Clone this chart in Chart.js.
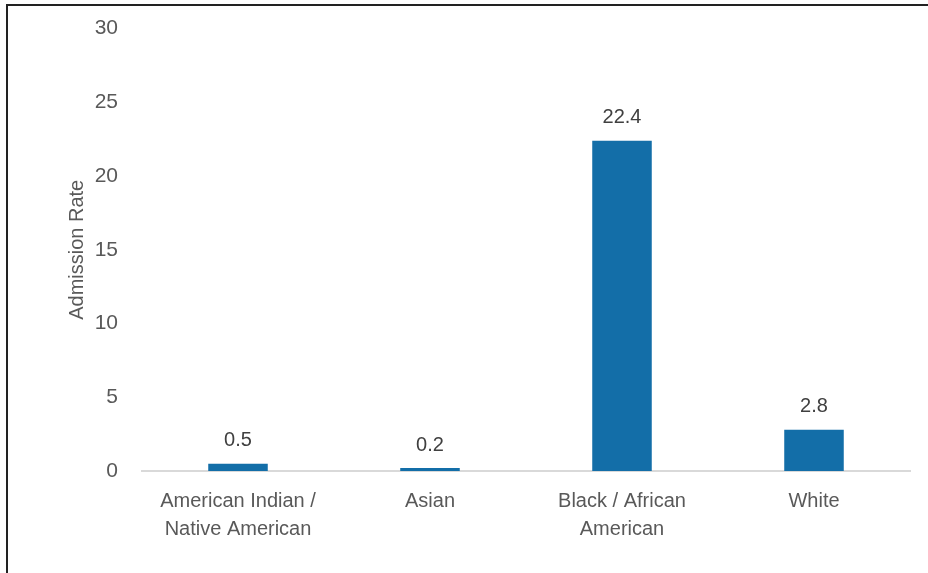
<!DOCTYPE html>
<html>
<head>
<meta charset="utf-8">
<script src="https://cdn.jsdelivr.net/npm/chart.js@4"></script>
<style>
  html, body { margin: 0; padding: 0; background: #fff; }
  #wrap { position: relative; width: 928px; height: 573px; }
  #frame { position: absolute; left: 6px; top: 4px; right: 0; bottom: 0; border-left: 2px solid #222; border-top: 2px solid #222; pointer-events: none; }
</style>
</head>
<body>
<div id="wrap">
  <canvas id="barChart" width="928" height="573"></canvas>
  <div id="frame"></div>
</div>
<script>
const categories = [['American Indian /', 'Native American'], 'Asian', ['Black / African', 'American'], 'White'];
const admissionRates = [0.5, 0.2, 22.4, 2.8];
const yTicks = [0, 5, 10, 15, 20, 25, 30];

const fontFamily = '"Liberation Sans Narrow", "Arial Narrow", "Liberation Sans", sans-serif';

// draws the value above each bar
const valueLabels = {
    id: 'valueLabels',
    afterDatasetsDraw(chart) {
        const ctx = chart.ctx;
        const meta = chart.getDatasetMeta(0);
        ctx.save();
        ctx.font = '20px ' + fontFamily;
        ctx.fillStyle = '#404040';
        ctx.textAlign = 'center';
        ctx.textBaseline = 'bottom';
        meta.data.forEach((bar, i) => {
            ctx.fillText(admissionRates[i].toFixed(1), bar.x, bar.y - 13);
        });
        ctx.restore();
    }
};

const ctx = document.getElementById('barChart').getContext('2d');
const barChart = new Chart(ctx, {
    type: 'bar',
    data: {
        labels: categories,
        datasets: [{
            label: 'Admission Rate',
            data: admissionRates,
            backgroundColor: '#136ea8',
            barPercentage: 0.31,
            categoryPercentage: 1
        }]
    },
    options: {
        responsive: false,
        animation: false,
        layout: {
            padding: { left: 60, right: 18, top: 23, bottom: 0 }
        },
        plugins: {
            legend: { display: false },
            tooltip: { enabled: false }
        },
        scales: {
            x: {
                grid: { display: false },
                border: { display: true, color: '#d9d9d9', width: 2 },
                ticks: {
                    color: '#595959',
                    font: { family: fontFamily, size: 20, lineHeight: 1.4 },
                    padding: 8,
                    maxRotation: 0
                },
                afterFit(scale) { scale.height = 102; }
            },
            y: {
                min: 0,
                max: 30,
                grid: { display: false },
                border: { display: false },
                afterBuildTicks(scale) { scale.ticks = yTicks.map(v => ({ value: v })); },
                ticks: {
                    color: '#595959',
                    font: { family: fontFamily, size: 21 },
                    padding: 16
                },
                title: {
                    display: true,
                    text: 'Admission Rate',
                    color: '#595959',
                    font: { family: fontFamily, size: 20 },
                    padding: { top: 5, bottom: 0 }
                },
                afterFit(scale) { scale.width = 82; }
            }
        }
    },
    plugins: [valueLabels]
});
</script>
</body>
</html>
